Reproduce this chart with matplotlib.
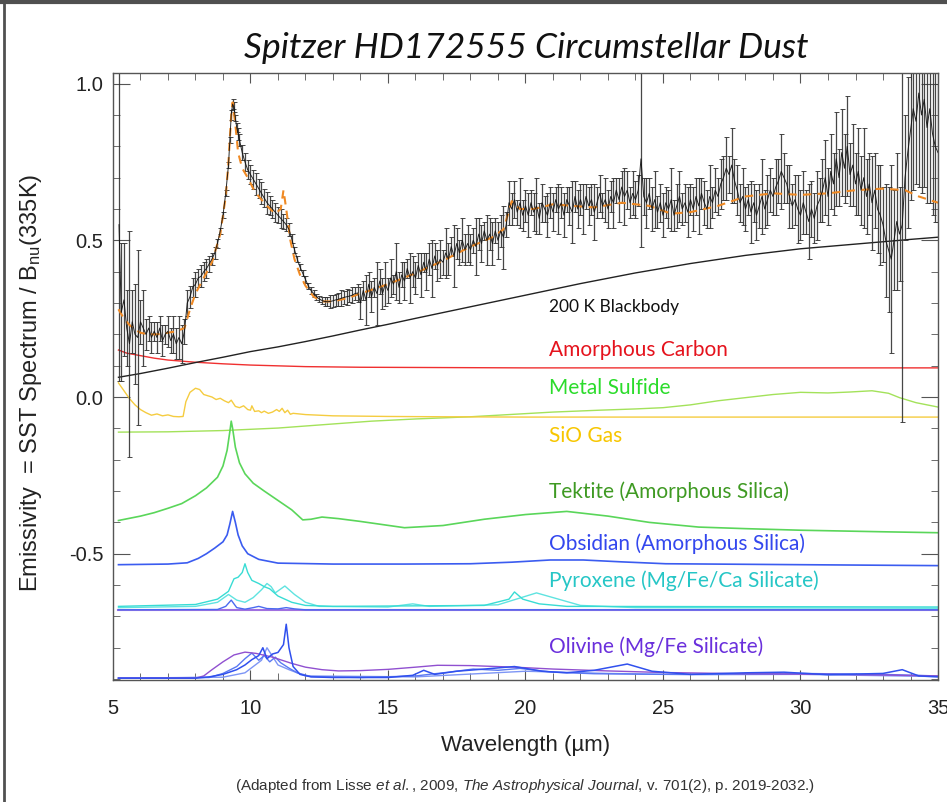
import matplotlib
matplotlib.use("Agg")
import matplotlib.pyplot as plt
from matplotlib.ticker import MultipleLocator, FixedLocator
from matplotlib.lines import Line2D

plt.rcParams['font.family'] = ['Liberation Sans', 'DejaVu Sans']
plt.rcParams['mathtext.fontset'] = 'custom'
plt.rcParams['mathtext.rm'] = 'Liberation Sans'
plt.rcParams['mathtext.it'] = 'Liberation Sans:italic'

# ---- Spitzer IRS spectrum (emissivity) with errors ----
wl_obs = [5.22, 5.3, 5.4, 5.5, 5.6, 5.7, 5.8, 5.9, 6.0, 6.1, 6.2, 6.3, 6.4, 6.5, 6.6, 6.7, 6.8, 6.9,
          7.0, 7.1, 7.2, 7.3, 7.4, 7.5, 7.6, 7.7, 7.8, 7.9, 8.0, 8.1, 8.2, 8.3, 8.4, 8.5, 8.6, 8.7, 8.8, 8.9,
          9.0, 9.1, 9.2, 9.25, 9.3, 9.35, 9.4, 9.45, 9.5, 9.55, 9.6, 9.7, 9.8, 9.9,
          10.0, 10.1, 10.2, 10.3, 10.4, 10.5, 10.6, 10.7, 10.8, 10.9,
          11.0, 11.1, 11.2, 11.3, 11.4, 11.5, 11.6, 11.7, 11.8, 11.9,
          12.0, 12.1, 12.2, 12.3, 12.4, 12.5, 12.6, 12.7, 12.8, 12.9,
          13.0, 13.1, 13.2, 13.3, 13.4, 13.5, 13.6, 13.7, 13.8, 13.9,
          14.0, 14.1, 14.2, 14.3, 14.4, 14.5, 14.6, 14.7, 14.8, 14.9,
          15.0, 15.1, 15.2, 15.3, 15.4, 15.5, 15.6, 15.7, 15.8, 15.9,
          16.0, 16.1, 16.2, 16.3, 16.4, 16.5, 16.6, 16.7, 16.8, 16.9,
          17.0, 17.1, 17.2, 17.3, 17.4, 17.5, 17.6, 17.7, 17.8, 17.9,
          18.0, 18.1, 18.2, 18.3, 18.4, 18.5, 18.6, 18.7, 18.8, 18.9,
          19.0, 19.1, 19.2, 19.3, 19.4, 19.5, 19.6, 19.7, 19.8, 19.9,
          20.0, 20.1, 20.2, 20.3, 20.4, 20.5, 20.6, 20.7, 20.8, 20.9,
          21.0, 21.1, 21.2, 21.3, 21.4, 21.5, 21.6, 21.7, 21.8, 21.9,
          22.0, 22.1, 22.2, 22.3, 22.4, 22.5, 22.6, 22.7, 22.8, 22.9,
          23.0, 23.1, 23.2, 23.3, 23.4, 23.5, 23.6, 23.7, 23.8, 23.9,
          24.0, 24.1, 24.2, 24.3, 24.4, 24.5, 24.6, 24.7, 24.8, 24.9,
          25.0, 25.1, 25.2, 25.3, 25.4, 25.5, 25.6, 25.7, 25.8, 25.9,
          26.0, 26.1, 26.2, 26.3, 26.4, 26.5, 26.6, 26.7, 26.8, 26.9,
          27.0, 27.1, 27.2, 27.3, 27.4, 27.5, 27.6, 27.7, 27.8, 27.9,
          28.0, 28.1, 28.2, 28.3, 28.4, 28.5, 28.6, 28.7, 28.8, 28.9,
          29.0, 29.1, 29.2, 29.3, 29.4, 29.5, 29.6, 29.7, 29.8, 29.9,
          30.0, 30.1, 30.2, 30.3, 30.4, 30.5, 30.6, 30.7, 30.8, 30.9,
          31.0, 31.1, 31.2, 31.3, 31.4, 31.5, 31.6, 31.7, 31.8, 31.9,
          32.0, 32.1, 32.2, 32.3, 32.4, 32.5, 32.6, 32.7, 32.8, 32.9,
          33.0, 33.1, 33.2, 33.3, 33.4, 33.5, 33.6, 33.7, 33.8, 33.9,
          34.0, 34.1, 34.2, 34.3, 34.4, 34.5, 34.6, 34.7, 34.8, 34.9, 35.0]

flux_obs = [0.55, 0.27, 0.31, 0.22, 0.17, 0.24, 0.20, 0.19, 0.24, 0.22, 0.20, 0.22, 0.19, 0.21, 0.19, 0.22, 0.18, 0.20,
            0.21, 0.18, 0.20, 0.17, 0.19, 0.17, 0.21, 0.30, 0.32, 0.35, 0.36, 0.38, 0.385, 0.40, 0.41, 0.425, 0.44, 0.46, 0.49, 0.53,
            0.58, 0.65, 0.74, 0.82, 0.90, 0.935, 0.925, 0.89, 0.86, 0.84, 0.82, 0.78, 0.75, 0.725,
            0.71, 0.695, 0.68, 0.665, 0.65, 0.635, 0.62, 0.61, 0.60, 0.59,
            0.58, 0.57, 0.56, 0.55, 0.535, 0.505, 0.47, 0.44, 0.415, 0.395,
            0.375, 0.355, 0.34, 0.33, 0.32, 0.313, 0.308, 0.305, 0.304, 0.305,
            0.307, 0.31, 0.312, 0.315, 0.318, 0.32, 0.322, 0.325, 0.33, 0.332,
            0.30, 0.34, 0.31, 0.36, 0.32, 0.35, 0.33, 0.37, 0.33, 0.36,
            0.34, 0.38, 0.36, 0.40, 0.35, 0.39, 0.37, 0.41, 0.38, 0.40,
            0.38, 0.42, 0.39, 0.43, 0.40, 0.44, 0.41, 0.45, 0.42, 0.44,
            0.43, 0.46, 0.44, 0.48, 0.45, 0.49, 0.46, 0.50, 0.47, 0.49,
            0.47, 0.50, 0.48, 0.52, 0.49, 0.53, 0.50, 0.52, 0.49, 0.53,
            0.50, 0.53, 0.51, 0.55, 0.62, 0.60, 0.63, 0.59, 0.62, 0.58,
            0.61, 0.58, 0.62, 0.59, 0.61, 0.57, 0.62, 0.60, 0.58, 0.62,
            0.59, 0.63, 0.60, 0.62, 0.58, 0.63, 0.61, 0.59, 0.64, 0.60,
            0.63, 0.60, 0.64, 0.61, 0.63, 0.59, 0.62, 0.65, 0.61, 0.63,
            0.60, 0.64, 0.62, 0.66, 0.63, 0.67, 0.64, 0.66, 0.62, 0.65,
            0.63, 0.66, 0.76, 0.64, 0.62, 0.65, 0.60, 0.63, 0.59, 0.62,
            0.58, 0.62, 0.60, 0.63, 0.58, 0.61, 0.64, 0.60, 0.62, 0.59,
            0.63, 0.60, 0.64, 0.61, 0.65, 0.62, 0.60, 0.64, 0.62, 0.66,
            0.64, 0.68, 0.70, 0.73, 0.71, 0.74, 0.69, 0.66, 0.62, 0.64,
            0.60, 0.63, 0.59, 0.62, 0.58, 0.61, 0.64, 0.60, 0.63, 0.66,
            0.64, 0.67, 0.69, 0.72, 0.70, 0.68, 0.64, 0.61, 0.63, 0.60,
            0.58, 0.62, 0.59, 0.56, 0.60, 0.57, 0.61, 0.63, 0.66, 0.70,
            0.64, 0.72, 0.68, 0.76, 0.70, 0.78, 0.73, 0.80, 0.71, 0.74,
            0.68, 0.72, 0.66, 0.70, 0.64, 0.68, 0.62, 0.66, 0.60, 0.58,
            0.55, 0.50, 0.47, 0.44, 0.50, 0.56, 0.52, 0.55, 0.70, 0.78,
            0.85, 0.92, 0.88, 0.97, 0.90, 0.95, 0.86, 0.92, 0.84, 0.80, 0.78]

err_obs = [0.50, 0.22, 0.18, 0.12, 0.36, 0.10, 0.16, 0.28, 0.07, 0.12, 0.05, 0.04, 0.05, 0.03, 0.05, 0.04, 0.05, 0.03,
           0.05, 0.04, 0.06, 0.05, 0.07, 0.06, 0.04, 0.04, 0.035, 0.03, 0.04, 0.03, 0.035, 0.03, 0.03, 0.025, 0.02, 0.02, 0.015, 0.01,
           0.01, 0.01, 0.01, 0.01, 0.015, 0.015, 0.015, 0.01, 0.015, 0.02, 0.02, 0.025, 0.03, 0.03,
           0.03, 0.03, 0.035, 0.03, 0.035, 0.03, 0.035, 0.03, 0.03, 0.03,
           0.025, 0.03, 0.025, 0.02, 0.02, 0.015, 0.01, 0.01, 0.01, 0.01,
           0.01, 0.01, 0.01, 0.01, 0.01, 0.01, 0.01, 0.015, 0.015, 0.02,
           0.02, 0.02, 0.02, 0.025, 0.02, 0.025, 0.02, 0.025, 0.02, 0.03,
           0.05, 0.03, 0.08, 0.04, 0.05, 0.03, 0.10, 0.04, 0.05, 0.07,
           0.04, 0.06, 0.03, 0.09, 0.05, 0.04, 0.06, 0.03, 0.08, 0.05,
           0.05, 0.04, 0.07, 0.03, 0.06, 0.05, 0.09, 0.04, 0.05, 0.06,
           0.04, 0.08, 0.05, 0.03, 0.10, 0.05, 0.04, 0.07, 0.05, 0.06,
           0.05, 0.04, 0.09, 0.05, 0.06, 0.03, 0.08, 0.05, 0.07, 0.04,
           0.06, 0.05, 0.10, 0.04, 0.07, 0.05, 0.06, 0.04, 0.08, 0.05,
           0.05, 0.07, 0.04, 0.06, 0.09, 0.05, 0.06, 0.04, 0.07, 0.05,
           0.06, 0.04, 0.08, 0.05, 0.07, 0.04, 0.06, 0.10, 0.05, 0.06,
           0.05, 0.08, 0.04, 0.06, 0.05, 0.09, 0.05, 0.06, 0.04, 0.07,
           0.06, 0.05, 0.08, 0.04, 0.07, 0.05, 0.09, 0.06, 0.05, 0.07,
           0.06, 0.05, 0.28, 0.06, 0.08, 0.05, 0.07, 0.09, 0.05, 0.06,
           0.07, 0.05, 0.06, 0.10, 0.05, 0.07, 0.08, 0.05, 0.06, 0.08,
           0.05, 0.07, 0.06, 0.09, 0.05, 0.07, 0.06, 0.10, 0.05, 0.07,
           0.06, 0.08, 0.07, 0.10, 0.06, 0.12, 0.07, 0.08, 0.06, 0.09,
           0.07, 0.05, 0.10, 0.06, 0.08, 0.07, 0.12, 0.06, 0.08, 0.07,
           0.06, 0.09, 0.07, 0.12, 0.08, 0.06, 0.10, 0.07, 0.08, 0.11,
           0.08, 0.10, 0.07, 0.12, 0.09, 0.08, 0.11, 0.07, 0.10, 0.12,
           0.09, 0.12, 0.10, 0.15, 0.09, 0.14, 0.11, 0.16, 0.10, 0.13,
           0.10, 0.14, 0.11, 0.16, 0.12, 0.10, 0.15, 0.12, 0.14, 0.16,
           0.12, 0.18, 0.20, 0.30, 0.16, 0.22, 0.15, 0.63, 0.20, 0.24,
           0.22, 0.26, 0.20, 0.30, 0.25, 0.28, 0.24, 0.30, 0.26, 0.24, 0.22]

# ---- best-fit model (orange dashed) ----
wl_model = [5.2, 5.4, 5.6, 5.8, 6.0, 6.3, 6.6, 7.0, 7.3, 7.6, 7.8, 8.0, 8.3, 8.6, 8.9, 9.1, 9.2, 9.3, 9.35,
            9.45, 9.55, 9.7, 9.9, 10.1, 10.3, 10.6, 10.9, 11.1, 11.2, 11.3, 11.45, 11.6, 11.8, 12.0, 12.3,
            12.6, 13.0, 13.5, 14.0, 15.0, 16.0, 17.0, 18.0, 18.8, 19.2, 19.5, 19.8, 20.3, 21.0, 21.7, 22.5,
            23.5, 24.5, 25.3, 26.0, 27.0, 28.0, 29.0, 30.0, 31.0, 32.0, 33.0, 33.8, 34.3, 35.0]
flux_model = [0.28, 0.25, 0.23, 0.215, 0.205, 0.20, 0.20, 0.205, 0.21, 0.22, 0.28, 0.33, 0.38, 0.43, 0.52, 0.64, 0.75, 0.90, 0.94,
              0.87, 0.78, 0.73, 0.70, 0.665, 0.64, 0.61, 0.585, 0.60, 0.66, 0.60, 0.50, 0.44, 0.39, 0.355, 0.32,
              0.305, 0.305, 0.315, 0.33, 0.36, 0.395, 0.435, 0.48, 0.51, 0.535, 0.625, 0.60, 0.60, 0.615, 0.61, 0.605,
              0.62, 0.61, 0.585, 0.59, 0.61, 0.64, 0.65, 0.645, 0.65, 0.66, 0.665, 0.66, 0.64, 0.62]

# ---- 200 K blackbody ----
wl_bb = [5.2, 6, 7, 8, 9, 10, 11, 12, 13, 14, 15, 16, 18, 20, 22, 24, 26, 28, 30, 32, 34, 35]
flux_bb = [0.063, 0.075, 0.092, 0.110, 0.127, 0.145, 0.160, 0.177, 0.195, 0.214, 0.232, 0.251, 0.288,
           0.325, 0.362, 0.396, 0.426, 0.452, 0.473, 0.488, 0.503, 0.51]

# ---- dust components (offset emissivities) ----
wl_carbon = [5.2, 5.5, 6.0, 6.5, 7.0, 8.0, 9.0, 10.0, 12.0, 14.0, 17.0, 20.0, 25.0, 30.0, 35.0]
em_carbon = [0.15, 0.14, 0.132, 0.124, 0.118, 0.111, 0.106, 0.102, 0.097, 0.095, 0.094, 0.093, 0.093, 0.093, 0.093]

wl_sulfide = [5.2, 7, 9, 11, 13, 14.4, 16, 18, 19, 21, 22.7, 24, 25, 26, 27, 28, 29, 30, 31, 31.8,
              32.6, 33.2, 33.6, 34.2, 35]
em_sulfide = [-0.112, -0.111, -0.107, -0.099, -0.086, -0.077, -0.07, -0.063, -0.058, -0.048, -0.042, -0.038,
              -0.034, -0.025, -0.012, -0.002, 0.008, 0.015, 0.013, 0.016, 0.02, 0.012, -0.002, -0.018, -0.032]

wl_sio = [5.2, 5.4, 5.6, 5.8, 6.0, 6.2, 6.4, 6.6, 6.8, 7.0, 7.2, 7.4, 7.55, 7.65, 7.8, 8.0, 8.15, 8.3,
          8.45, 8.6, 8.75, 8.9, 9.05, 9.2, 9.3, 9.45, 9.6, 9.75, 9.9, 10.0, 10.05, 10.15, 10.3, 10.4, 10.5,
          10.65, 10.8, 10.95, 11.05, 11.15, 11.25, 11.35, 11.45, 11.55, 12.0, 13, 15, 17, 20, 25, 30, 35]
em_sio = [0.045, 0.02, -0.005, -0.025, -0.04, -0.05, -0.058, -0.054, -0.06, -0.057, -0.062, -0.063,
          -0.062, -0.015, 0.015, 0.028, 0.024, 0.008, 0.004, 0.0, -0.008, -0.004, -0.012, -0.018, -0.01,
          -0.03, -0.034, -0.028, -0.04, -0.042, -0.028, -0.046, -0.044, -0.05, -0.045, -0.052, -0.048,
          -0.04, -0.046, -0.036, -0.05, -0.042, -0.055, -0.052, -0.056, -0.06, -0.062, -0.063, -0.064,
          -0.064, -0.064, -0.064]

wl_tektite = [5.2, 6.0, 6.5, 7.0, 7.5, 8.0, 8.4, 8.8, 9.0, 9.15, 9.25, 9.3, 9.35, 9.45, 9.6, 9.8, 10.1,
              10.5, 11.0, 11.5, 11.9, 12.2, 12.6, 13.2, 14, 15.6, 17, 18.5, 20, 21.5, 23, 24.5, 26.3, 28,
              30, 31.2, 33, 35]
em_tektite = [-0.394, -0.38, -0.369, -0.355, -0.34, -0.315, -0.29, -0.256, -0.22, -0.17, -0.11, -0.077,
              -0.1, -0.16, -0.21, -0.245, -0.275, -0.30, -0.33, -0.36, -0.392, -0.39, -0.383, -0.388,
              -0.397, -0.417, -0.41, -0.39, -0.375, -0.365, -0.38, -0.40, -0.415, -0.42, -0.425, -0.427,
              -0.43, -0.433]

wl_obsidian = [5.2, 7.0, 7.7, 8.1, 8.4, 8.7, 9.0, 9.15, 9.25, 9.35, 9.45, 9.55, 9.7, 9.9, 10.3, 11, 13,
               15.6, 18, 19.5, 20.9, 22.1, 23.5, 25.1, 30, 35]
em_obsidian = [-0.535, -0.533, -0.529, -0.515, -0.50, -0.482, -0.462, -0.44, -0.405, -0.365, -0.40, -0.44,
               -0.475, -0.50, -0.518, -0.53, -0.533, -0.533, -0.532, -0.527, -0.52, -0.52, -0.526, -0.532,
               -0.535, -0.538]

wl_pyx_a = [5.2, 8.0, 8.8, 9.2, 9.4, 9.55, 9.7, 9.8, 9.9, 10.05, 10.3, 10.5, 10.7, 11.0, 11.5, 12.0, 13,
            18.5, 19.4, 19.6, 19.9, 20.5, 21.5, 35]
em_pyx_a = [-0.668, -0.662, -0.645, -0.62, -0.58, -0.575, -0.56, -0.532, -0.56, -0.585, -0.595, -0.605,
            -0.612, -0.635, -0.655, -0.665, -0.668, -0.665, -0.645, -0.622, -0.645, -0.66, -0.668, -0.67]

wl_pyx_b = [5.2, 8.0, 8.8, 9.2, 9.5, 9.8, 10.1, 10.4, 10.6, 10.75, 10.9, 11.25, 11.6, 12.0, 12.5, 15,
            15.9, 16.5, 19, 20.4, 21.0, 22, 24, 35]
em_pyx_b = [-0.672, -0.668, -0.655, -0.63, -0.648, -0.655, -0.64, -0.615, -0.595, -0.605, -0.625, -0.603,
            -0.63, -0.655, -0.668, -0.67, -0.66, -0.668, -0.663, -0.625, -0.64, -0.665, -0.672, -0.674]

wl_pyx_c = [5.2, 8.8, 9.1, 9.3, 9.5, 9.8, 10.1, 10.3, 10.6, 11, 11.3, 11.6, 12, 35]
em_pyx_c = [-0.679, -0.678, -0.668, -0.648, -0.672, -0.677, -0.672, -0.668, -0.675, -0.676, -0.672,
            -0.676, -0.679, -0.679]

wl_pyx_base = [5.2, 35]
em_pyx_base = [-0.681, -0.681]

wl_olv_p = [5.2, 8.0, 8.3, 8.6, 9.0, 9.4, 9.8, 10.2, 10.8, 11.5, 12.0, 12.6, 13.2, 14, 15, 16, 16.8, 18,
            19.6, 21, 23, 25, 28, 31.2, 33, 35]
em_olv_p = [-0.897, -0.897, -0.89, -0.87, -0.845, -0.823, -0.814, -0.818, -0.83, -0.85, -0.862, -0.87,
            -0.874, -0.873, -0.869, -0.862, -0.856, -0.857, -0.862, -0.868, -0.874, -0.879, -0.883,
            -0.885, -0.887, -0.89]

wl_olv_a = [5.2, 8.0, 8.5, 9.0, 9.5, 9.8, 10.05, 10.3, 10.45, 10.6, 10.8, 11.0, 11.2, 11.3, 11.4, 11.55,
            11.8, 12.2, 13, 15, 15.9, 16.3, 16.7, 17.5, 18.5, 19.6, 20.6, 21.5, 22.5, 23.7, 24.6, 26, 28,
            29.4, 31, 33, 33.7, 34.3, 35]
em_olv_a = [-0.897, -0.897, -0.893, -0.885, -0.87, -0.855, -0.838, -0.825, -0.80, -0.835, -0.82, -0.815,
            -0.79, -0.725, -0.80, -0.86, -0.885, -0.893, -0.895, -0.895, -0.888, -0.872, -0.885, -0.875,
            -0.868, -0.86, -0.875, -0.88, -0.872, -0.852, -0.875, -0.885, -0.88, -0.878, -0.886, -0.882,
            -0.87, -0.89, -0.893]

wl_olv_b = [5.2, 8.5, 9.0, 9.5, 9.8, 10.05, 10.3, 10.5, 10.7, 10.9, 11.1, 11.4, 11.7, 12.2, 14, 16, 17.2,
            18.1, 19, 19.8, 21, 22.5, 25, 28, 30, 33, 35]
em_olv_b = [-0.897, -0.895, -0.882, -0.86, -0.835, -0.817, -0.84, -0.825, -0.845, -0.83, -0.848, -0.865,
            -0.88, -0.892, -0.895, -0.89, -0.878, -0.868, -0.872, -0.866, -0.878, -0.883, -0.885, -0.884,
            -0.882, -0.885, -0.89]

wl_olv_c = [5.2, 9.0, 9.8, 10.4, 10.6, 11.0, 11.4, 12.0, 16, 18, 20, 23, 26, 30, 35]
em_olv_c = [-0.897, -0.894, -0.88, -0.84, -0.80, -0.855, -0.87, -0.89, -0.893, -0.884, -0.875, -0.882,
            -0.886, -0.885, -0.892]

# label text, colour, and vertical anchor (emissivity units)
labels = ["200 K Blackbody", "Amorphous Carbon", "Metal Sulfide", "SiO Gas",
          "Tektite (Amorphous Silica)", "Obsidian (Amorphous Silica)",
          "Pyroxene (Mg/Fe/Ca Silicate)", "Olivine (Mg/Fe Silicate)"]
label_y = [0.288, 0.150, 0.029, -0.125, -0.301, -0.468, -0.587, -0.798]
label_colors = ["#111111", "#e5131d", "#2bdc2b", "#f7c600", "#3f9a23", "#3347ee", "#26c6c6", "#6a2fdc"]

fig = plt.figure(figsize=(9.47, 8.02), dpi=100)
ax = fig.add_axes([0.1193, 0.1521, 0.8712, 0.7569])

# components
ax.plot(wl_carbon, em_carbon, color="#f03030", lw=1.0)
ax.plot(wl_sulfide, em_sulfide, color="#a3e25a", lw=1.0)
ax.plot(wl_sio, em_sio, color="#f5cc40", lw=1.0)
ax.plot(wl_tektite, em_tektite, color="#5ad65a", lw=1.2)
ax.plot(wl_obsidian, em_obsidian, color="#3b5cf0", lw=1.2)
ax.plot(wl_pyx_base, em_pyx_base, color="#a070e0", lw=1.5)
ax.plot(wl_pyx_c, em_pyx_c, color="#4a6af0", lw=1.0)
ax.plot(wl_pyx_b, em_pyx_b, color="#5fe3e0", lw=1.0)
ax.plot(wl_pyx_a, em_pyx_a, color="#38dcd4", lw=1.0)
ax.plot(wl_olv_c, em_olv_c, color="#7d95f5", lw=1.0)
ax.plot(wl_olv_b, em_olv_b, color="#5a78f2", lw=1.0)
ax.plot(wl_olv_p, em_olv_p, color="#9050d0", lw=1.0)
ax.plot(wl_olv_a, em_olv_a, color="#3050ee", lw=1.1)

# blackbody
ax.plot(wl_bb, flux_bb, color="#222222", lw=1.0)

# observed spectrum
ax.errorbar(wl_obs, flux_obs, yerr=err_obs, fmt="-", color="#111111", lw=0.7,
            ecolor="#333333", elinewidth=0.9, capsize=1.8, capthick=0.7, alpha=0.9)
ax.plot(wl_model, flux_model, color="#f08a24", lw=1.5, dashes=(4, 3))

for txt, yy, cc in zip(labels, label_y, label_colors):
    fs = 12.5 if txt.startswith("200") else 15
    ax.text(20.85, yy, txt, color=cc, fontsize=fs, family="Lato", ha="left", va="center")

ax.set_xlim(5, 35)
ax.set_ylim(-0.903, 1.034)
ax.xaxis.set_major_locator(MultipleLocator(5))
ax.xaxis.set_minor_locator(MultipleLocator(1))
ax.yaxis.set_major_locator(FixedLocator([-0.5, 0.0, 0.5, 1.0]))
ax.yaxis.set_minor_locator(MultipleLocator(0.1))
ax.set_yticklabels(["-0.5", "0.0", "0.5", "1.0"])
ax.tick_params(axis="both", which="both", direction="in", top=True, right=True,
               colors="#555555", labelcolor="#222222", labelsize=14.5)
ax.tick_params(axis="x", which="major", length=7, pad=14)
ax.tick_params(axis="x", which="minor", length=5)
ax.tick_params(axis="y", which="major", length=12, pad=7)
ax.tick_params(axis="y", which="minor", length=5)
for sp in ax.spines.values():
    sp.set_color("#555555")
    sp.set_linewidth(1.0)

ax.set_xlabel("Wavelength (µm)", fontsize=16, color="#222222")
ax.xaxis.set_label_coords(0.5, -0.09)
ax.set_ylabel(r"Emissivity  = SST Spectrum / B$_{\mathrm{nu}}$(335K)", fontsize=17, color="#222222")
ax.yaxis.set_label_coords(-0.084, 0.49)

fig.text(0.556, 0.940, "Spitzer HD172555 Circumstellar Dust", fontsize=25.5, style="italic",
         family="Lato", ha="center", va="center", color="#111111")
fig.text(0.5545, 0.020,
         r"(Adapted from Lisse $et\ al.$, 2009, $The\ Astrophysical\ Journal$, v. 701(2), p. 2019-2032.)",
         fontsize=11, ha="center", va="center", color="#333333")

# slide frame edges
fig.add_artist(Line2D([0, 1], [0.997, 0.997], transform=fig.transFigure, color="#505050", lw=3))
fig.add_artist(Line2D([0.004, 0.004], [0, 1], transform=fig.transFigure, color="#505050", lw=2))

fig.savefig("out.png", dpi=100)
